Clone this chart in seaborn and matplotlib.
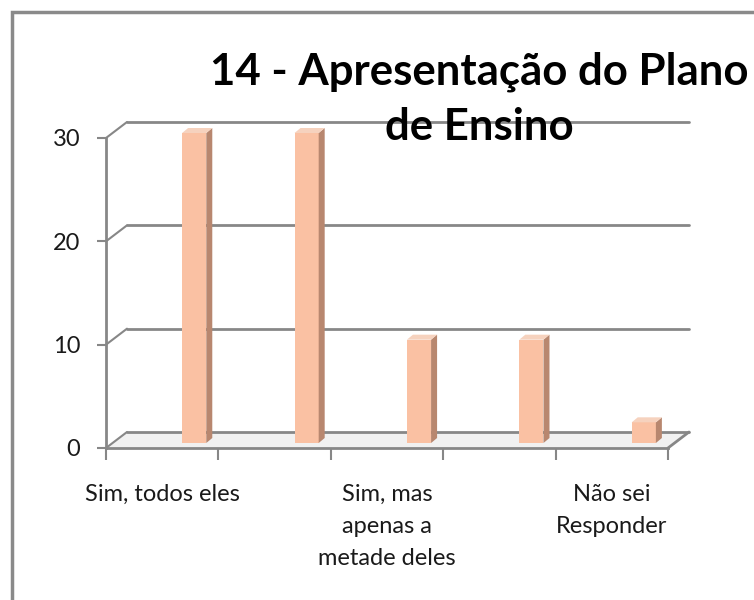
import matplotlib
matplotlib.use("Agg")
import matplotlib.pyplot as plt
import matplotlib.transforms as mtransforms
from matplotlib.patches import Polygon, Rectangle
import seaborn as sns

# data
categories = ["c1", "c2", "c3", "c4", "c5"]
values = [30, 30, 10, 10, 2]
tick_labels = ["Sim, todos eles", "", "Sim, mas\napenas a\nmetade deles", "", "Não sei\nResponder"]
yticks = [0, 10, 20, 30]
title = "14 - Apresentação do Plano\nde Ensino"

front = "#FAC1A3"
side = "#B8876F"
top = "#F6D2BE"
grid = "#878787"

sns.set_style("white")
plt.rcParams['font.family'] = ['Lato', 'DejaVu Sans']

fig = plt.figure(figsize=(7.54, 6), dpi=100)
ax = fig.add_axes([106 / 754, 1 - 448 / 600, 562 / 754, 310 / 600])

sns.barplot(x=categories, y=values, ax=ax, color=front, saturation=1, width=0.215, zorder=3)
ax.set_xlim(-0.5, 4.5)
ax.set_ylim(0, 30)

# pseudo 3d: back wall offset and bar offset, in pixels
px = fig.dpi_scale_trans
back = mtransforms.ScaledTranslation(21 / 100, 16 / 100, px)
bar_shift = mtransforms.ScaledTranslation(32 / 100, 5 / 100, px)
dx, dy = 6, 5
ident = mtransforms.IdentityTransform()

# floor
fl = ax.transData.transform([(-0.5, 0), (4.5, 0)])
floor_pts = [fl[0], fl[1], fl[1] + [21, 16], fl[0] + [21, 16]]
ax.add_patch(Polygon(floor_pts, closed=True, transform=ident,
                     facecolor="#f1f1f1", edgecolor="none", zorder=0.5, clip_on=False))
p = ax.transData.transform((4.5, 0))
ax.add_line(plt.Line2D([p[0], p[0] + 21], [p[1], p[1] + 16], transform=ident,
                       color=grid, lw=2, clip_on=False, zorder=1))

# back gridlines with connectors
for v in yticks:
    ax.plot([-0.5, 4.5], [v, v], color=grid, lw=2, transform=ax.transData + back,
            clip_on=False, zorder=1)
    a = ax.transData.transform((-0.5, v))
    ax.add_line(plt.Line2D([a[0], a[0] + 21], [a[1], a[1] + 16], transform=ident,
                           color=grid, lw=1.5, clip_on=False, zorder=1))

# shift bars and add side / top faces
for patch in list(ax.patches):
    if not isinstance(patch, Rectangle):
        continue
    x0, w, h = patch.get_x(), patch.get_width(), patch.get_height()
    if h <= 0:
        continue
    patch.set_transform(ax.transData + bar_shift)
    patch.set_clip_on(False)
    patch.set_edgecolor("none")
    bl = ax.transData.transform((x0, 0)) + [32, 5]
    tr = ax.transData.transform((x0 + w, h)) + [32, 5]
    side_pts = [(tr[0], bl[1]), (tr[0], tr[1]), (tr[0] + dx, tr[1] + dy), (tr[0] + dx, bl[1] + dy)]
    top_pts = [(bl[0], tr[1]), (tr[0], tr[1]), (tr[0] + dx, tr[1] + dy), (bl[0] + dx, tr[1] + dy)]
    for pts, c in [(side_pts, side), (top_pts, top)]:
        ax.add_patch(Polygon(pts, closed=True, transform=ident,
                             facecolor=c, edgecolor="none", zorder=3, clip_on=False))

# axes styling
for s in ["top", "right"]:
    ax.spines[s].set_visible(False)
for s in ["left", "bottom"]:
    ax.spines[s].set_color(grid)
    ax.spines[s].set_linewidth(2)
ax.set_yticks(yticks)
ax.tick_params(axis="y", direction="out", length=6.5, width=1.5, color=grid, pad=12,
               labelsize=17, labelcolor="#1a1a1a", left=True)
ax.set_xticks(range(len(categories)))
ax.set_xticklabels(tick_labels, linespacing=1.65)
ax.set_xticks([i - 0.5 for i in range(len(categories) + 1)], minor=True)
ax.tick_params(axis="x", which="major", length=0, pad=26, labelsize=17, labelcolor="#1a1a1a")
ax.tick_params(axis="x", which="minor", direction="out", length=8.5, width=1.5, color=grid, bottom=True)
ax.set_xlabel("")
ax.set_ylabel("")

# outer chart frame
fig.patches.append(Rectangle((12 / 754, -0.1), 1.2, 0.98 + 0.1, transform=fig.transFigure,
                             facecolor="none", edgecolor="#8a8a8a", lw=2.5))

fig.text(479 / 754, 1 - 140 / 600, title, ha="center", va="baseline", fontsize=31.5,
         fontweight="bold", linespacing=1.45, color="black", zorder=5)

fig.savefig("out.png", dpi=100)
